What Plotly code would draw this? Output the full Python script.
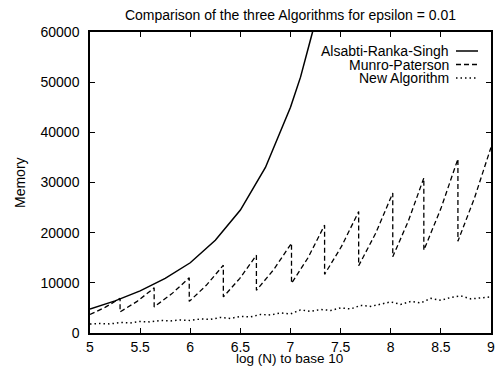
import plotly.graph_objects as go

# ---- data ----
ars_x = [5.0, 5.25, 5.5, 5.75, 6.0, 6.25, 6.5, 6.75, 7.0, 7.1, 7.2, 7.3]
ars_y = [4800, 6400, 8400, 10900, 14000, 18500, 24500, 33000, 45000, 51000, 58500, 66000]

mp_x = [5.0, 5.15, 5.30, 5.30, 5.47, 5.64, 5.64, 5.815, 5.99, 5.99, 6.16, 6.33,
        6.33, 6.495, 6.66, 6.66, 6.835, 7.01, 7.01, 7.175, 7.34, 7.34, 7.51, 7.68,
        7.68, 7.85, 8.02, 8.02, 8.175, 8.33, 8.33, 8.50, 8.67, 8.67, 8.835, 9.0]
mp_y = [3700, 5100, 6900, 4200, 6300, 9000, 5200, 7800, 11000, 6300, 9500, 13500,
        7200, 10900, 15500, 8500, 12700, 17900, 9900, 15000, 21500, 11700, 17300, 24200,
        13400, 19900, 27900, 15200, 22300, 30900, 16500, 24800, 34700, 18300, 26900, 37000]

new_x = [5.0, 5.1, 5.2, 5.3, 5.4, 5.5, 5.6, 5.7, 5.8, 5.9, 6.0, 6.1, 6.2, 6.3, 6.4,
         6.5, 6.6, 6.7, 6.8, 6.9, 7.0, 7.1, 7.2, 7.3, 7.4, 7.5, 7.6, 7.7, 7.8, 7.9,
         8.0, 8.1, 8.2, 8.3, 8.4, 8.5, 8.6, 8.7, 8.8, 8.9, 9.0]
new_y = [1800, 1900, 1800, 2100, 2000, 2300, 2200, 2500, 2400, 2600, 2500, 2800, 2700, 3100, 2900,
         3300, 3200, 3700, 3600, 4000, 3800, 4600, 4300, 4700, 4500, 5000, 4800, 5500, 5300, 5700,
         6200, 5700, 6300, 6000, 6900, 6500, 7100, 7400, 6800, 7000, 7200]

x_ticks = [5, 5.5, 6, 6.5, 7, 7.5, 8, 8.5, 9]
x_tick_labels = ["5", "5.5", "6", "6.5", "7", "7.5", "8", "8.5", "9"]
y_ticks = [0, 10000, 20000, 30000, 40000, 50000, 60000]
y_tick_labels = ["0", "10000", "20000", "30000", "40000", "50000", "60000"]

series_names = ["Alsabti-Ranka-Singh", "Munro-Paterson", "New Algorithm"]
series_dash = ["solid", "5px,3px", "1.5px,3px"]
series_width = [1.5, 1.3, 1.5]

FONT = "Liberation Sans, Arial, Helvetica, sans-serif"
W, H = 495, 367
L, R, T, B = 90, 491, 32, 333   # plot area in pixels


def px_x(p):
    return (p - L) / float(R - L)


def px_y(p):
    return (B - p) / float(B - T)


fig = go.Figure()
for xs, ys, name, dash, lw in zip([ars_x, mp_x, new_x], [ars_y, mp_y, new_y],
                                   series_names, series_dash, series_width):
    fig.add_trace(go.Scatter(x=xs, y=ys, mode="lines", name=name,
                             line=dict(color="black", width=lw, dash=dash)))

# gnuplot-style key: right-aligned text with the sample to its right
leg_rows = [51, 64.5, 78]
for name, dash, lw, yy in zip(series_names, series_dash, series_width, leg_rows):
    fig.add_annotation(x=px_x(450), xref="paper", y=px_y(yy), yref="paper",
                       text=name, showarrow=False, xanchor="right", yanchor="middle",
                       borderpad=0,
                       font=dict(family=FONT, size=14, color="black"))
    fig.add_shape(type="line", xref="paper", yref="paper",
                  x0=px_x(456), x1=px_x(478), y0=px_y(yy), y1=px_y(yy),
                  line=dict(color="black", width=lw, dash=dash))

# axis titles
fig.add_annotation(x=px_x(289), xref="paper", y=px_y(359), yref="paper",
                   text="log (N) to base 10", showarrow=False, borderpad=0,
                   xanchor="center", yanchor="middle",
                   font=dict(family=FONT, size=13.5, color="black"))
fig.add_annotation(x=px_x(20), xref="paper", y=px_y(183), yref="paper",
                   text="Memory", showarrow=False, textangle=-90, borderpad=0,
                   xanchor="center", yanchor="middle",
                   font=dict(family=FONT, size=14, color="black"))

fig.update_layout(
    width=W, height=H,
    margin=dict(l=L, r=W - R, t=T, b=H - B),
    paper_bgcolor="white", plot_bgcolor="white",
    showlegend=False,
    font=dict(family=FONT, size=14, color="black"),
    title=dict(text="Comparison of the three Algorithms for epsilon = 0.01",
               x=(L + R) / 2 / float(W), xanchor="center",
               y=1 - 15 / float(H), yanchor="middle", yref="container",
               font=dict(family=FONT, size=14, color="black")),
)
fig.update_xaxes(range=[5, 9], tickvals=x_ticks, ticktext=x_tick_labels,
                 showgrid=False, zeroline=False,
                 showline=True, linecolor="black", linewidth=1.5, mirror="ticks",
                 ticks="inside", ticklen=5, tickwidth=1.2, tickcolor="black",
                 ticklabeloverflow="allow",
                 tickfont=dict(family=FONT, size=14), automargin=False)
fig.update_yaxes(range=[0, 60000], tickvals=y_ticks, ticktext=y_tick_labels,
                 showgrid=False, zeroline=False,
                 showline=True, linecolor="black", linewidth=1.5, mirror="ticks",
                 ticks="inside", ticklen=5, tickwidth=1.2, tickcolor="black",
                 ticklabelstandoff=6, ticklabeloverflow="allow",
                 tickfont=dict(family=FONT, size=14), automargin=False)

fig.write_html("out.html",
               config={"displayModeBar": False},
               post_script="document.body.style.margin='0';document.body.style.padding='0';")
